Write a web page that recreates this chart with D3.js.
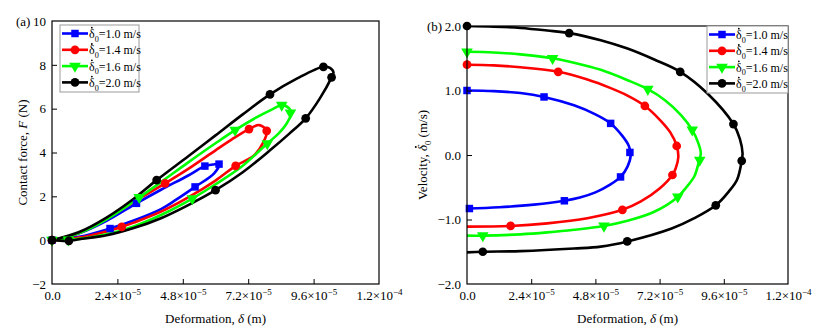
<!DOCTYPE html>
<html><head><meta charset="utf-8">
<script src="https://cdn.jsdelivr.net/npm/d3@7"></script>
<style>
body{margin:0;background:#fff}
svg{font-family:"Liberation Serif","Times New Roman",serif}
</style>
</head><body>
<svg id="c" width="825" height="334"></svg>
<script>
// ---------- DATA (deformation in units of 1e-5 m) ----------
const seriesLabels = ["1.0", "1.4", "1.6", "2.0"];          // initial velocity, m/s
const seriesColors = ["#0000ff", "#ff0000", "#00ff00", "#000000"];
const seriesSymbols = ["square", "circle", "triangleDown", "circle"];

const xTicks = [0, 2.4, 4.8, 7.2, 9.6, 12];
const xTickMant = ["0.0", "2.4×10", "4.8×10", "7.2×10", "9.6×10", "1.2×10"];
const xTickExp = ["", "−5", "−5", "−5", "−5", "−4"];
const yTicksA = [-2, 0, 2, 4, 6, 8, 10];
const yTickLabelsA = ["−2", "0", "2", "4", "6", "8", "10"];
const yTicksB = [-2, -1, 0, 1, 2];
const yTickLabelsB = ["−2.0", "−1.0", "0.0", "1.0", "2.0"];

// (a) contact force F (N) vs deformation
const force10 = [[0,0],[1.0,0.31],[2.0,0.88],[3.1,1.68],[4.0,2.3],[5.0,2.95],[5.61,3.38],[5.9,3.45],[6.13,3.47],[5.95,3.05],[5.25,2.43],[4.5,1.8],[4.0,1.42],[3.0,0.9],[2.13,0.53],[1.0,0.15],[0,0]];
const force14 = [[0,0],[1.0,0.33],[2.0,0.97],[3.0,1.75],[4.15,2.59],[5.0,3.25],[6.0,4.1],[6.6,4.6],[7.23,5.07],[7.6,5.25],[7.88,4.99],[7.75,4.45],[7.4,3.85],[6.74,3.39],[6.0,2.72],[5.0,1.95],[4.0,1.3],[3.0,0.8],[2.56,0.61],[2.0,0.4],[1.0,0.12],[0,0]];
const force16 = [[0,0],[1.0,0.32],[2.0,0.95],[3.2,1.95],[4.0,2.65],[5.0,3.55],[6.0,4.42],[6.72,5.02],[7.5,5.6],[8.1,5.98],[8.43,6.16],[8.7,6.02],[8.78,5.8],[8.6,5.3],[8.3,4.85],[7.9,4.41],[7.0,3.4],[6.0,2.55],[5.15,1.9],[4.0,1.15],[3.0,0.63],[2.0,0.27],[1.0,0.06],[0,0]];
const force20 = [[0,0],[1.0,0.37],[2.0,1.03],[3.0,1.89],[3.84,2.74],[5.0,3.83],[6.0,4.78],[7.0,5.74],[8.0,6.65],[9.0,7.38],[9.96,7.91],[10.2,7.86],[10.33,7.65],[10.26,7.43],[9.83,6.47],[9.31,5.56],[8.7,4.85],[8.0,4.1],[7.0,3.1],[6.0,2.28],[5.0,1.6],[4.0,1.0],[3.0,0.55],[2.0,0.22],[1.0,0.04],[0.62,-0.03],[0,0]];
const forceMk10 = [[0,0],[3.1,1.68],[5.61,3.38],[6.13,3.47],[5.25,2.43],[2.13,0.53]];
const forceMk14 = [[0,0],[4.15,2.59],[7.23,5.07],[7.88,4.99],[6.74,3.39],[2.56,0.61]];
const forceMk16 = [[0,0],[3.2,1.95],[6.72,5.02],[8.43,6.16],[8.75,5.81],[7.9,4.41],[5.15,1.9],[0.6,0.02]];
const forceMk20 = [[0,0],[3.84,2.74],[8.0,6.65],[9.96,7.91],[10.26,7.43],[9.31,5.56],[6.0,2.28],[0.62,-0.03]];

// (b) velocity (m/s) vs deformation
const vel10 = [[0,1.0],[1.0,0.99],[2.0,0.96],[2.88,0.9],[4.0,0.77],[4.8,0.63],[5.37,0.49],[5.8,0.3],[6.05,0.14],[6.12,0.0],[6.0,-0.18],[5.74,-0.34],[5.35,-0.46],[4.8,-0.58],[4.22,-0.66],[3.64,-0.71],[2.5,-0.77],[1.2,-0.81],[0,-0.83]];
const vel14 = [[0,1.4],[1.0,1.39],[2.0,1.36],[3.41,1.29],[4.5,1.17],[5.35,1.04],[6.0,0.92],[6.65,0.76],[7.2,0.55],[7.6,0.35],[7.84,0.14],[7.9,-0.03],[7.8,-0.21],[7.68,-0.31],[7.2,-0.52],[6.5,-0.72],[5.81,-0.85],[4.5,-0.98],[3.0,-1.06],[1.63,-1.1],[0,-1.11]];
const vel16 = [[0,1.6],[1.0,1.59],[2.0,1.56],[3.2,1.5],[4.0,1.43],[5.0,1.32],[6.0,1.16],[6.76,1.02],[7.4,0.85],[8.0,0.62],[8.42,0.39],[8.65,0.18],[8.74,0.03],[8.67,-0.1],[8.5,-0.33],[8.2,-0.5],[7.88,-0.65],[7.0,-0.88],[6.0,-1.02],[5.12,-1.1],[4.0,-1.16],[3.0,-1.2],[2.0,-1.23],[0.59,-1.25],[0,-1.25]];
const vel20 = [[0,2.0],[1.0,1.99],[2.0,1.97],[3.0,1.93],[3.82,1.89],[5.0,1.78],[6.0,1.65],[7.0,1.48],[7.97,1.29],[9.0,0.95],[9.96,0.48],[10.2,0.25],[10.3,0.03],[10.27,-0.09],[10.1,-0.38],[9.8,-0.56],[9.3,-0.78],[8.5,-0.98],[7.65,-1.14],[6.0,-1.34],[5.0,-1.42],[4.0,-1.45],[2.0,-1.49],[0.59,-1.5],[0,-1.51]];
const velMk10 = [[0,1.0],[2.88,0.9],[5.37,0.49],[6.09,0.04],[5.74,-0.34],[3.64,-0.71],[0.09,-0.83]];
const velMk14 = [[0,1.4],[3.41,1.29],[6.65,0.76],[7.84,0.14],[7.68,-0.31],[5.81,-0.85],[1.63,-1.1]];
const velMk16 = [[0,1.6],[3.2,1.5],[6.76,1.02],[8.42,0.39],[8.7,-0.08],[7.88,-0.65],[5.12,-1.1],[0.59,-1.25]];
const velMk20 = [[0,2.0],[3.82,1.89],[7.97,1.29],[9.96,0.48],[10.27,-0.09],[9.3,-0.78],[5.99,-1.34],[0.59,-1.5]];

const forceCurves = [force10, force14, force16, force20];
const forceMarks = [forceMk10, forceMk14, forceMk16, forceMk20];
const velCurves = [vel10, vel14, vel16, vel20];
const velMarks = [velMk10, velMk14, velMk16, velMk20];

// ---------- DRAWING ----------
const svg = d3.select("#c");
const FS = 13;

function symbolPath(kind) {
  if (kind === "square") return d3.symbol(d3.symbolSquare, 56)();
  if (kind === "circle") return d3.symbol(d3.symbolCircle, 60)();
  return d3.symbol(d3.symbolTriangle, 58)();
}
function drawMarker(g, kind, color, x, y) {
  const p = g.append("path").attr("d", symbolPath(kind)).attr("fill", color).attr("stroke", "none");
  if (kind === "triangleDown") p.attr("transform", `translate(${x},${y}) rotate(180)`);
  else p.attr("transform", `translate(${x},${y})`);
}

// δ followed by subscript 0; returns index of δ char; a dot is drawn later above it
function deltaSub(t, fs, italic) {
  const d = t.append("tspan").text("δ");
  if (italic) d.attr("font-style", "italic");
  t.append("tspan").attr("font-size", fs * 0.68).attr("dy", 0.3 * fs).text("0");
  return -0.3 * fs;
}
// put a small dot above the given char of a text element (in its parent's coordinates)
function dotAbove(parent, textSel, charIndex, fs, shift) {
  const ext = textSel.node().getExtentOfChar(charIndex);
  parent.append("circle").attr("cx", ext.x + ext.width / 2 + (shift || 0)).attr("cy", ext.y + fs * 0.06)
    .attr("r", fs * 0.075).attr("fill", "#000");
}

function legendLabel(g, x, y, v) {
  const tx = g.append("text").attr("x", x).attr("y", y).attr("font-size", 12).attr("fill", "#000");
  const back = deltaSub(tx, 12, false);
  tx.append("tspan").attr("dy", back).text("=" + v + " m/s");
  dotAbove(g, tx, 0, 12);
}

function panel(opt) {
  const {x0, x1, y0, y1, yDomain, yTicks, yLabels, curves, marks, tag, legend} = opt;
  const g = svg.append("g");
  const xs = d3.scaleLinear().domain([0, 12]).range([x0, x1]);
  const ys = d3.scaleLinear().domain(yDomain).range([y1, y0]);

  const clip = "clip" + tag.replace(/[()]/g, "");
  svg.append("clipPath").attr("id", clip).append("rect")
    .attr("x", x0).attr("y", y0).attr("width", x1 - x0).attr("height", y1 - y0);

  const line = d3.line().x(d => xs(d[0])).y(d => ys(d[1])).curve(d3.curveCatmullRom.alpha(0.5));
  const pg = g.append("g").attr("clip-path", `url(#${clip})`);
  curves.forEach((c, i) => {
    pg.append("path").attr("d", line(c)).attr("fill", "none")
      .attr("stroke", seriesColors[i]).attr("stroke-width", 2.6).attr("stroke-linejoin", "round");
  });
  const mg = g.append("g");
  marks.forEach((m, i) => {
    m.forEach(d => drawMarker(mg, seriesSymbols[i], seriesColors[i], xs(d[0]), ys(d[1])));
  });

  // frame
  g.append("rect").attr("x", x0).attr("y", y0).attr("width", x1 - x0).attr("height", y1 - y0)
    .attr("fill", "none").attr("stroke", "#000").attr("stroke-width", 1.2);

  // x axis
  const xa = g.append("g").attr("transform", `translate(0,${y1})`)
    .call(d3.axisBottom(xs).tickValues(xTicks).tickSizeInner(-5).tickSizeOuter(0).tickPadding(7).tickFormat(() => ""));
  xa.attr("font-family", null).attr("font-size", null);
  xa.select(".domain").remove();
  xa.selectAll(".tick line").attr("stroke", "#000").attr("stroke-width", 1);
  xa.selectAll(".tick").filter(d => d === 0 || d === 12).select("line").remove();
  xa.selectAll(".tick text").each(function(d, i) {
    const t = d3.select(this).attr("font-size", FS).attr("fill", "#000");
    t.append("tspan").text(xTickMant[i]);
    if (xTickExp[i]) t.append("tspan").attr("font-size", 9).attr("dy", -5).text(xTickExp[i]);
  });

  // y axis
  const ya = g.append("g").attr("transform", `translate(${x0},0)`)
    .call(d3.axisLeft(ys).tickValues(yTicks).tickSizeInner(-5).tickSizeOuter(0).tickPadding(6)
      .tickFormat((d, i) => yLabels[i]));
  ya.attr("font-family", null).attr("font-size", null);
  ya.select(".domain").remove();
  ya.selectAll(".tick line").attr("stroke", "#000");
  ya.selectAll(".tick").filter(d => d === yDomain[0] || d === yDomain[1]).select("line").remove();
  ya.selectAll(".tick text").attr("font-size", FS).attr("fill", "#000");

  // titles
  const xt = g.append("text").attr("x", (x0 + x1) / 2).attr("y", 323).attr("text-anchor", "middle")
    .attr("font-size", FS);
  xt.append("tspan").text("Deformation, ");
  xt.append("tspan").attr("font-style", "italic").text("δ");
  xt.append("tspan").text(" (m)");

  const yg = g.append("g").attr("transform", `translate(${opt.yTitleX},${(y0 + y1) / 2}) rotate(-90)`);
  const yt = yg.append("text").attr("x", 0).attr("y", 0).attr("font-size", FS);
  opt.yTitle(yt, yg);
  const w = yt.node().getComputedTextLength();
  yg.selectAll("*").attr("transform", `translate(${-w / 2},0)`);

  g.append("text").attr("x", opt.tagX).attr("y", y0 + 4.5).attr("font-size", FS).text(tag);

  // legend
  const lg = g.append("g");
  lg.append("rect").attr("x", legend.x).attr("y", legend.y).attr("width", legend.w).attr("height", legend.h)
    .attr("fill", "#fff").attr("stroke", "#999").attr("stroke-width", 1);
  seriesLabels.forEach((v, i) => {
    const yy = legend.y + 8.5 + i * 16.3;
    lg.append("line").attr("x1", legend.x + 2).attr("x2", legend.x + 28).attr("y1", yy).attr("y2", yy)
      .attr("stroke", seriesColors[i]).attr("stroke-width", 2.6);
    drawMarker(lg, seriesSymbols[i], seriesColors[i], legend.x + 15, yy);
    legendLabel(lg, legend.x + 29, yy + 4.5, v);
  });
}

panel({
  x0: 52, x1: 379, y0: 21, y1: 284, yDomain: [-2, 10], yTicks: yTicksA, yLabels: yTickLabelsA,
  curves: forceCurves, marks: forceMarks, tag: "(a)", tagX: 16, yTitleX: 27,
  yTitle: (t) => { t.append("tspan").text("Contact force, "); t.append("tspan").attr("font-style", "italic").text("F"); t.append("tspan").text(" (N)"); },
  legend: {x: 60, y: 25, w: 79, h: 67}
});
panel({
  x0: 467, x1: 788, y0: 26, y1: 284, yDomain: [-2, 2], yTicks: yTicksB, yLabels: yTickLabelsB,
  curves: velCurves, marks: velMarks, tag: "(b)", tagX: 427, yTitleX: 427,
  yTitle: (t, yg) => { t.append("tspan").text("Velocity, "); const back = deltaSub(t, FS, true);
    t.append("tspan").attr("dy", back).text(" (m/s)");
    dotAbove(yg, t, "Velocity, ".length, FS, 1); },
  legend: {x: 707, y: 26, w: 81, h: 67}
});
</script>
</body></html>
